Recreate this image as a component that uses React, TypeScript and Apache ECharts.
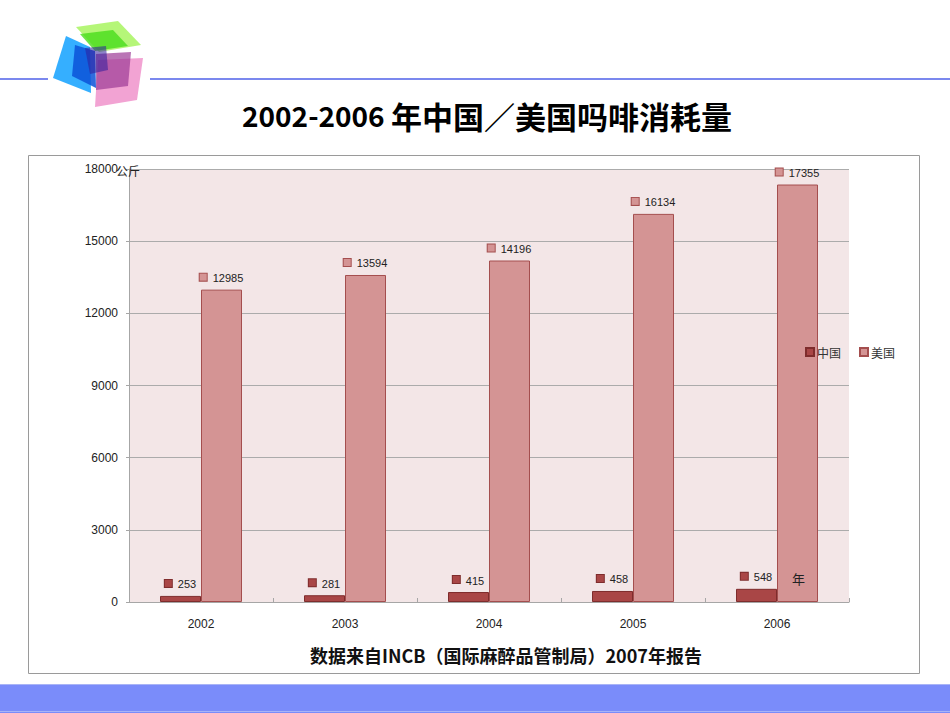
import React, { useEffect, useRef } from "react";
import * as echarts from "echarts";

const categories = ["2002", "2003", "2004", "2005", "2006"];
const chinaValues = [253, 281, 415, 458, 548];
const usaValues = [12985, 13594, 14196, 16134, 17355];
const seriesNames = ["中国", "美国"];
const yTicks = { min: 0, max: 18000, interval: 3000 };

const CHINA_COLOR = "#a94646";
const CHINA_BORDER = "#7e2c2c";
const USA_COLOR = "#d49494";
const USA_BORDER = "#a44e4e";

function makeLabel(color: string, border: string) {
  return {
    show: true,
    position: "top",
    distance: 6,
    formatter: "{sq|}{v|{c}}",
    rich: {
      sq: {
        width: 7,
        height: 7,
        backgroundColor: color,
        borderColor: border,
        borderWidth: 1,
      },
      v: {
        fontSize: 11,
        color: "#222",
        fontFamily: "Liberation Sans",
        padding: [2, 0, 0, 6],
      },
    },
  };
}

export default function App() {
  const ref = useRef<HTMLDivElement>(null);
  useEffect(() => {
    if (!ref.current) return;
    const chart = echarts.init(ref.current, undefined, { renderer: "svg" });
    chart.setOption({
      animation: false,
      backgroundColor: "#ffffff",
      textStyle: { fontFamily: "Liberation Sans" },
      legend: {
        left: 800,
        top: 341,
        itemWidth: 8,
        itemHeight: 8,
        itemGap: 18,
        icon: "rect",
        data: seriesNames,
        textStyle: {
          fontFamily: "Noto Sans CJK SC",
          fontSize: 12,
          color: "#333",
          padding: [0, 0, 0, -2],
        },
      },
      grid: {
        left: 129,
        right: 101,
        top: 169,
        height: 433,
        show: true,
        backgroundColor: "#f3e6e7",
        borderWidth: 0,
      },
      xAxis: {
        type: "category",
        data: categories,
        axisLine: { lineStyle: { color: "#a6a6a6", width: 1 } },
        axisTick: { show: true, inside: true, length: 4, lineStyle: { color: "#a6a6a6" } },
        axisLabel: {
          margin: 16,
          fontSize: 12,
          color: "#222",
          fontFamily: "Liberation Sans",
        },
      },
      yAxis: {
        type: "value",
        min: yTicks.min,
        max: yTicks.max,
        interval: yTicks.interval,
        axisLine: { show: true, lineStyle: { color: "#a6a6a6", width: 1 } },
        axisTick: { show: true, length: 3, lineStyle: { color: "#a6a6a6" } },
        splitLine: { show: true, lineStyle: { color: "#ababab", width: 1 } },
        axisLabel: {
          margin: 11,
          fontSize: 12,
          color: "#222",
          fontFamily: "Liberation Sans",
          formatter: (v: number) => String(v),
        },
      },
      series: [
        {
          name: seriesNames[0],
          type: "bar",
          data: chinaValues,
          barWidth: 41,
          barGap: "0%",
          itemStyle: { color: CHINA_COLOR, borderColor: CHINA_BORDER, borderWidth: 1 },
          label: makeLabel(CHINA_COLOR, CHINA_BORDER),
        },
        {
          name: seriesNames[1],
          type: "bar",
          data: usaValues,
          barWidth: 41,
          barGap: "0%",
          itemStyle: { color: USA_COLOR, borderColor: USA_BORDER, borderWidth: 1 },
          label: makeLabel(USA_COLOR, USA_BORDER),
        },
      ],
      graphic: [
        // top blue rule
        { type: "rect", shape: { x: 0, y: 78, width: 48, height: 2 }, style: { fill: "#7b88ee" } },
        { type: "rect", shape: { x: 150, y: 78, width: 800, height: 2 }, style: { fill: "#7b88ee" } },
        // bottom band
        { type: "rect", shape: { x: 0, y: 684, width: 950, height: 29 }, style: { fill: "#7a8cfa" } },
        { type: "rect", shape: { x: 0, y: 684, width: 950, height: 1 }, style: { fill: "#a9b4f6" } },
        { type: "rect", shape: { x: 0, y: 711, width: 950, height: 1 }, style: { fill: "#a9b4f6" } },
        // chart frame
        {
          type: "rect",
          shape: { x: 28.5, y: 155.5, width: 891, height: 518 },
          style: { fill: "none", stroke: "#9a9a9a", lineWidth: 1 },
          z: -1,
        },
        // logo
        {
          type: "group",
          children: [
            { type: "polygon", shape: { points: [[76, 27], [118, 21], [141, 45], [99, 52]] }, style: { fill: "#a8f560", opacity: 0.85 } },
            { type: "polygon", shape: { points: [[66, 36], [90, 47], [91, 93], [53, 78]] }, style: { fill: "#1fa6ff", opacity: 0.9 } },
            { type: "polygon", shape: { points: [[80, 34], [113, 30], [128, 46], [95, 51]] }, style: { fill: "#48dd1c", opacity: 0.8 } },
            { type: "polygon", shape: { points: [[75, 45], [95, 51], [96, 88], [72, 76]] }, style: { fill: "#0a52d8", opacity: 0.85 } },
            { type: "polygon", shape: { points: [[98, 60], [143, 58], [137, 100], [95, 107]] }, style: { fill: "#ec7cc0", opacity: 0.7 } },
            { type: "polygon", shape: { points: [[96, 54], [131, 52], [128, 86], [96, 90]] }, style: { fill: "#9c3a96", opacity: 0.7 } },
            { type: "polygon", shape: { points: [[85, 48], [106, 46], [108, 70], [90, 74]] }, style: { fill: "#2f1e9c", opacity: 0.55 } },
          ],
        },
        // title
        {
          type: "text",
          x: 487,
          y: 115,
          z: 100,
          style: {
            text: "{d|2002-2006 }{c|年中国／美国吗啡消耗量}",
            align: "center",
            verticalAlign: "middle",
            rich: {
              d: {
                fontFamily: "Noto Sans CJK SC",
                fontWeight: "bold",
                fontSize: 28,
                fill: "#000",
              },
              c: {
                fontFamily: "Noto Sans CJK SC",
                fontWeight: "bold",
                fontSize: 31,
                fill: "#000",
              },
            },
          },
        },
        // axis unit labels
        {
          type: "text",
          x: 116,
          y: 170,
          z: 100,
          style: {
            text: "公斤",
            fontFamily: "Noto Sans CJK SC",
            fontSize: 12,
            fill: "#222",
            verticalAlign: "middle",
          },
        },
        {
          type: "text",
          x: 792,
          y: 578,
          z: 100,
          style: {
            text: "年",
            fontFamily: "Noto Sans CJK SC",
            fontSize: 13,
            fill: "#222",
            verticalAlign: "middle",
          },
        },
        // source note
        {
          type: "text",
          x: 506,
          y: 655,
          z: 100,
          style: {
            text: "数据来自INCB（国际麻醉品管制局）2007年报告",
            fontFamily: "Noto Sans CJK SC",
            fontWeight: "bold",
            fontSize: 18,
            fill: "#111",
            align: "center",
            verticalAlign: "middle",
          },
        },
      ],
    });
    return () => chart.dispose();
  }, []);
  return (
    <div
      ref={ref}
      style={{ position: "fixed", left: 0, top: 0, width: 950, height: 713 }}
    />
  );
}
